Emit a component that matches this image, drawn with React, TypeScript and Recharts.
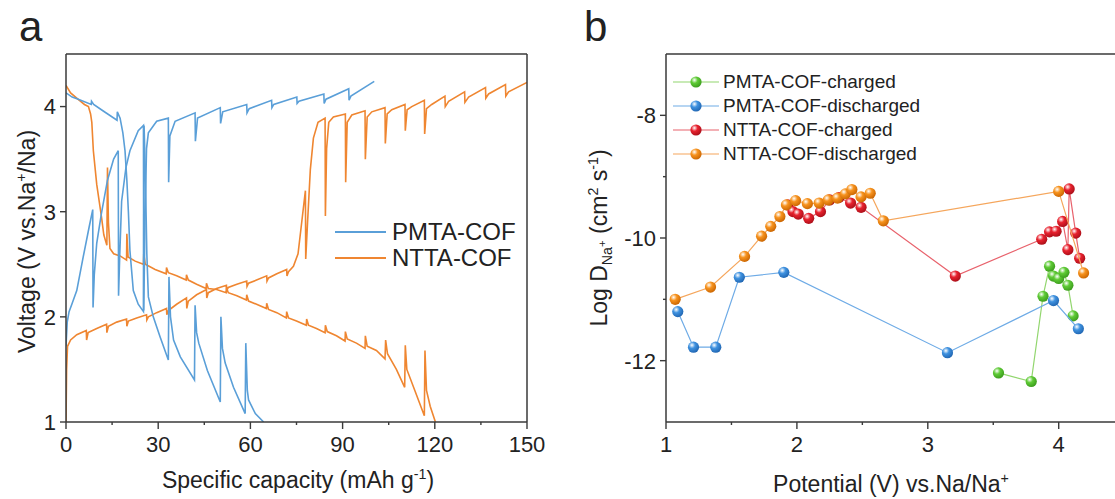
import React from 'react';
import {
  LineChart, Line, ScatterChart, Scatter, XAxis, YAxis,
} from 'recharts';

// ---- panel a: GITT voltage profiles, [capacity mAh/g, voltage V] ----
const pmtaCharge: number[][] = [
  [0, 1.72], [0.4, 1.95], [1.0, 2.05], [1.9, 2.12], [3.5, 2.25], [5.6, 2.57], [7.5, 2.85], [8.7, 3.02],
  [8.8, 2.09], [9.2, 2.4], [10, 2.7], [11.5, 2.98], [13.5, 3.3], [15.5, 3.5], [17, 3.58],
  [17.1, 2.2], [17.5, 2.6], [18.1, 3.1], [19.5, 3.42], [20.8, 3.58], [23.5, 3.77], [25.2, 3.82],
  [25.3, 2.06], [25.7, 2.9], [26.2, 3.6], [26.8, 3.75], [29.5, 3.86], [33.3, 3.89],
  [33.4, 3.28], [33.8, 3.72], [35.5, 3.86], [42, 3.94], [42.1, 3.67], [42.8, 3.89], [50.2, 3.99],
  [50.3, 3.84], [51, 3.95], [58.8, 4.02], [58.9, 3.94], [59.6, 3.98], [66.9, 4.06], [67, 3.99],
  [67.6, 4.02], [75.1, 4.09], [75.2, 4.03], [75.8, 4.05], [83.9, 4.12], [84, 4.03], [84.6, 4.07],
  [92, 4.17], [92.1, 4.06], [92.7, 4.1], [100.3, 4.24],
];

const pmtaDischarge: number[][] = [
  [0, 4.13], [2, 4.09], [4, 4.07], [8.2, 4.02], [8.3, 4.05], [9, 4.02], [12, 3.96], [16.6, 3.87],
  [16.7, 3.95], [17.6, 3.89], [18.5, 3.75], [19.2, 3.58], [19.8, 3.3], [20.3, 3.0], [20.8, 2.63],
  [21.9, 2.25], [23.5, 2.12], [25.2, 2.05], [25.4, 3.82], [25.8, 3.4], [26.3, 2.6], [26.8, 2.19],
  [28.4, 2.0], [30.6, 1.81], [33.3, 1.59], [33.5, 2.38], [34, 2.0], [35, 1.78], [37.2, 1.62],
  [41.8, 1.4], [42, 2.11], [42.5, 1.85], [43.2, 1.75], [46, 1.49], [50.2, 1.19], [50.4, 2.0],
  [50.9, 1.7], [51.8, 1.56], [54.5, 1.33], [58.3, 1.08], [58.5, 1.75], [59, 1.3], [59.4, 1.21],
  [61.6, 1.08], [64.3, 1.0],
];

const nttaCharge: number[][] = [
  [0, 1.0], [0.2, 1.5], [0.5, 1.72], [1.5, 1.78], [3.5, 1.83], [6.6, 1.87], [6.7, 1.78], [7.2, 1.85],
  [10, 1.89], [13.2, 1.93], [13.3, 1.85], [13.8, 1.91], [16.5, 1.95], [19.7, 1.98], [19.8, 1.91],
  [20.3, 1.96], [23, 1.99], [26.2, 2.02], [26.3, 1.97], [26.8, 2.0], [29.5, 2.04], [32.7, 2.08],
  [32.8, 2.02], [33.3, 2.06], [36, 2.12], [39.2, 2.18], [39.3, 2.08], [39.8, 2.15], [42.5, 2.21],
  [45.7, 2.26], [45.8, 2.18], [46.3, 2.23], [49, 2.27], [52.2, 2.3], [52.3, 2.25], [52.8, 2.28],
  [55.6, 2.31], [58.8, 2.34], [58.9, 2.29], [59.4, 2.32], [62, 2.35], [65.3, 2.39], [65.4, 2.34],
  [65.9, 2.37], [68.6, 2.41], [71.8, 2.45], [71.9, 2.39], [72.4, 2.43], [74, 2.48], [75.5, 2.6],
  [76.5, 2.85], [77.9, 3.2], [78, 2.55], [78.6, 2.9], [79.5, 3.4], [80.5, 3.7], [82, 3.85],
  [84.3, 3.89], [84.4, 2.96], [84.8, 3.6], [85.5, 3.85], [87, 3.9], [90.9, 3.93], [91, 3.28],
  [91.5, 3.85], [93, 3.92], [97.3, 3.96], [97.4, 3.5], [98, 3.9], [99.5, 3.95], [103.8, 3.99],
  [103.9, 3.65], [104.5, 3.93], [106, 3.97], [110.3, 4.02], [110.4, 3.77], [111, 3.97],
  [112.5, 4.0], [116.6, 4.06], [116.7, 3.74], [117.3, 3.98], [119, 4.02], [123.3, 4.1],
  [123.4, 4.0], [124.5, 4.05], [129.7, 4.14], [129.8, 4.04], [131, 4.09], [136.5, 4.18],
  [136.6, 4.08], [137.5, 4.12], [143, 4.21], [143.1, 4.1], [144, 4.14], [150, 4.23],
];

const nttaDischarge: number[][] = [
  [0, 4.2], [1.5, 4.13], [3.5, 4.08], [6, 4.02], [7.3, 4.0], [8.0, 3.93], [8.4, 3.85], [8.9, 3.58],
  [10, 3.26], [11.6, 2.94], [12.3, 2.78], [13.3, 2.68], [13.5, 3.42], [13.8, 2.9], [14.3, 2.65],
  [15.5, 2.6], [17.6, 2.58], [19.7, 2.54], [19.8, 2.79], [20.2, 2.57], [22.5, 2.53], [25.2, 2.5],
  [25.3, 2.6], [25.8, 2.5], [29, 2.45], [32.6, 2.41], [32.7, 2.47], [33.3, 2.42], [36, 2.39],
  [39.1, 2.35], [39.2, 2.4], [39.8, 2.35], [42.5, 2.31], [45.6, 2.27], [45.7, 2.32], [46.3, 2.27],
  [49, 2.26], [52.1, 2.23], [52.2, 2.28], [52.8, 2.23], [55.6, 2.2], [58.7, 2.16], [58.8, 2.21],
  [59.4, 2.15], [62, 2.12], [65.2, 2.08], [65.3, 2.13], [65.9, 2.07], [68.6, 2.04], [71.7, 1.99],
  [71.8, 2.05], [72.4, 1.99], [75, 1.96], [78.2, 1.92], [78.3, 1.98], [78.9, 1.92], [81.5, 1.89],
  [84.3, 1.85], [84.4, 1.92], [85, 1.86], [88, 1.82], [90.8, 1.77], [90.9, 1.86], [91.5, 1.79],
  [94.5, 1.75], [97.3, 1.7], [97.4, 1.82], [98, 1.72], [101, 1.68], [103.8, 1.6], [104, 1.78],
  [104.6, 1.65], [107.5, 1.5], [110.2, 1.33], [110.4, 1.73], [110.9, 1.5], [113.5, 1.3],
  [116.6, 1.06], [116.8, 1.68], [117.3, 1.3], [118.5, 1.15], [120.2, 1.0],
];

const capacityTicks = [0, 15, 30, 45, 60, 75, 90, 105, 120, 135, 150];
const capacityLabels = [0, 30, 60, 90, 120, 150];
const voltageTicks = [1, 2, 3, 4];

// ---- panel b: diffusion coefficient, [potential V, log D] ----
const pmtaCharged: number[][] = [
  [3.54, -12.2], [3.79, -12.34], [3.88, -10.95], [3.93, -10.46], [3.96, -10.62], [4.0, -10.66],
  [4.04, -10.56], [4.07, -10.77], [4.11, -11.27],
];
const pmtaDischarged: number[][] = [
  [1.09, -11.2], [1.21, -11.78], [1.38, -11.78], [1.56, -10.64], [1.9, -10.56], [3.15, -11.87],
  [3.96, -11.02], [4.15, -11.48],
];
const nttaCharged: number[][] = [
  [1.93, -9.46], [1.97, -9.57], [2.01, -9.61], [2.09, -9.68], [2.18, -9.57], [2.25, -9.38],
  [2.32, -9.34], [2.41, -9.43], [2.49, -9.5], [3.21, -10.62], [3.87, -10.02], [3.93, -9.9],
  [3.98, -9.89], [4.03, -9.73], [4.07, -10.19], [4.08, -9.2], [4.13, -9.92], [4.16, -10.33],
];
const nttaDischarged: number[][] = [
  [1.07, -11.0], [1.34, -10.8], [1.6, -10.3], [1.73, -9.97], [1.8, -9.81], [1.87, -9.65],
  [1.92, -9.46], [1.99, -9.39], [2.08, -9.44], [2.17, -9.43], [2.24, -9.38], [2.31, -9.35],
  [2.37, -9.28], [2.42, -9.21], [2.49, -9.33], [2.56, -9.27], [2.66, -9.72], [4.0, -9.24],
  [4.19, -10.57],
];

const potentialTicks = [1, 1.5, 2, 2.5, 3, 3.5, 4];
const potentialLabels = [1, 2, 3, 4];
const logDTicks = [-12, -11, -10, -9, -8];
const logDLabels = [-12, -10, -8];

const BLUE = '#5a9fd8';
const ORANGE = '#ef8631';
const AXIS = '#3a3a3a';
const FONT = '"Liberation Sans", Arial, Helvetica, sans-serif';

const toCV = (arr: number[][]) => arr.map(([c, v]) => ({ c, v }));
const toPD = (arr: number[][]) => arr.map(([p, d]) => ({ p, d }));

const makeXTick = (labels: number[]) => (props: any) => {
  const { x, y, payload } = props;
  const major = labels.includes(payload.value);
  return (
    <g>
      <line x1={x} y1={y} x2={x} y2={y + (major ? 7 : 3)} stroke={AXIS} strokeWidth={1.4} />
      {major && (
        <text x={x} y={y + 30} textAnchor="middle" fontSize={22} fill="#222" fontFamily={FONT}>
          {payload.value}
        </text>
      )}
    </g>
  );
};

const makeYTick = (labels: number[]) => (props: any) => {
  const { x, y, payload } = props;
  const major = labels.includes(payload.value);
  return (
    <g>
      <line x1={x} y1={y} x2={x - (major ? 6 : 3)} y2={y} stroke={AXIS} strokeWidth={1.4} />
      {major && (
        <text x={x - 10} y={y} dy="0.36em" textAnchor="end" fontSize={22} fill="#222" fontFamily={FONT}>
          {payload.value}
        </text>
      )}
    </g>
  );
};

const makeBall = (id: string, color: string, dark: string) => (props: any) => {
  const { cx, cy } = props;
  if (cx == null || cy == null) return <g />;
  return (
    <g>
      <defs>
        <radialGradient id={id} cx="0.36" cy="0.32" r="0.72">
          <stop offset="0" stopColor="#ffffff" />
          <stop offset="0.4" stopColor={color} />
          <stop offset="1" stopColor={dark} />
        </radialGradient>
      </defs>
      <circle cx={cx} cy={cy} r={5.6} fill={`url(#${id})`} />
    </g>
  );
};

const seriesB = [
  { name: 'PMTA-COF-charged', data: pmtaCharged, line: '#92d66e', color: '#5fcb36', dark: '#3a9a1c', id: 'gGreen' },
  { name: 'PMTA-COF-discharged', data: pmtaDischarged, line: '#6eabe6', color: '#3f92e0', dark: '#1f64b0', id: 'gBlue' },
  { name: 'NTTA-COF-charged', data: nttaCharged, line: '#e8626c', color: '#e8222e', dark: '#a80e18', id: 'gRed' },
  { name: 'NTTA-COF-discharged', data: nttaDischarged, line: '#f5a65c', color: '#f7931e', dark: '#c96400', id: 'gOrange' },
];

const sup: React.CSSProperties = { fontSize: '0.62em', position: 'relative', top: '-0.6em' };
const sub: React.CSSProperties = { fontSize: '0.62em', position: 'relative', top: '0.35em' };

const abs = (left: number, top: number, extra: React.CSSProperties = {}): React.CSSProperties => ({
  position: 'absolute', left, top, ...extra,
});

const frame = { stroke: AXIS, strokeWidth: 1.5 };

export default function App() {
  return (
    <div style={{ position: 'absolute', left: 0, top: 0, width: 1115, height: 499, overflow: 'hidden', background: '#fff', fontFamily: FONT, color: '#222' }}>
      {/* panel a */}
      <div style={abs(0, 0)}>
        <LineChart width={560} height={499} margin={{ top: 52, right: 31, bottom: 37, left: 20 }}>
          <XAxis
            type="number" dataKey="c" domain={[0, 150]} ticks={capacityTicks} height={40}
            axisLine={frame} tickLine={false} tickSize={0} tickMargin={0}
            tick={makeXTick(capacityLabels)} allowDataOverflow
          />
          <XAxis
            xAxisId="top" orientation="top" type="number" dataKey="c" domain={[0, 150]} height={2}
            axisLine={frame} tick={false} tickLine={false} allowDataOverflow
          />
          <YAxis
            type="number" domain={[1, 4.5]} ticks={voltageTicks} width={46}
            axisLine={frame} tickLine={false} tickSize={0} tickMargin={0}
            tick={makeYTick(voltageTicks)} allowDataOverflow
          />
          <YAxis
            yAxisId="right" orientation="right" type="number" domain={[1, 4.5]} width={2}
            axisLine={frame} tick={false} tickLine={false} allowDataOverflow
          />
          <Line data={toCV(nttaCharge)} dataKey="v" stroke={ORANGE} strokeWidth={1.6} dot={false} isAnimationActive={false} />
          <Line data={toCV(nttaDischarge)} dataKey="v" stroke={ORANGE} strokeWidth={1.6} dot={false} isAnimationActive={false} />
          <Line data={toCV(pmtaCharge)} dataKey="v" stroke={BLUE} strokeWidth={1.6} dot={false} isAnimationActive={false} />
          <Line data={toCV(pmtaDischarge)} dataKey="v" stroke={BLUE} strokeWidth={1.6} dot={false} isAnimationActive={false} />
        </LineChart>
      </div>

      <div style={abs(19, 6, { fontSize: 42, lineHeight: '42px' })}>a</div>
      <div style={abs(98, 466, { width: 400, textAlign: 'center', fontSize: 23, lineHeight: '28px' })}>
        Specific capacity (mAh g<span style={sup}>-1</span>)
      </div>
      <div style={abs(-122, 226, { width: 300, textAlign: 'center', fontSize: 23, lineHeight: '28px', transform: 'rotate(-90deg)' })}>
        Voltage (V vs.Na<span style={sup}>+</span>/Na)
      </div>

      {/* panel a legend */}
      {[{ name: 'PMTA-COF', color: BLUE, y: 232 }, { name: 'NTTA-COF', color: ORANGE, y: 258 }].map((e) => (
        <div key={e.name} style={abs(335, e.y - 14, { height: 28, display: 'flex', alignItems: 'center' })}>
          <div style={{ width: 51, height: 2, background: e.color }} />
          <span style={{ marginLeft: 6, fontSize: 24 }}>{e.name}</span>
        </div>
      ))}

      {/* panel b */}
      <div style={abs(560, 0)}>
        <ScatterChart width={555} height={499} margin={{ top: 52, right: 0, bottom: 37, left: 46 }}>
          <XAxis
            type="number" dataKey="p" domain={[1, 4.43]} ticks={potentialTicks} height={40}
            axisLine={frame} tickLine={false} tickSize={0} tickMargin={0}
            tick={makeXTick(potentialLabels)} allowDataOverflow
          />
          <XAxis
            xAxisId="top" orientation="top" type="number" dataKey="p" domain={[1, 4.43]} height={2}
            axisLine={frame} tick={false} tickLine={false} allowDataOverflow
          />
          <YAxis
            type="number" dataKey="d" domain={[-13, -7]} ticks={logDTicks} width={60}
            axisLine={frame} tickLine={false} tickSize={0} tickMargin={0}
            tick={makeYTick(logDLabels)} allowDataOverflow
          />
          {seriesB.map((s) => (
            <Scatter
              key={s.name} name={s.name} data={toPD(s.data)}
              line={{ stroke: s.line, strokeWidth: 1.2 }}
              shape={makeBall(s.id, s.color, s.dark)}
              isAnimationActive={false}
            />
          ))}
        </ScatterChart>
      </div>

      <div style={abs(584, 6, { fontSize: 42, lineHeight: '42px' })}>b</div>
      <div style={abs(691, 470, { width: 400, textAlign: 'center', fontSize: 23, lineHeight: '28px' })}>
        Potential (V) vs.Na/Na<span style={sup}>+</span>
      </div>
      <div style={abs(451, 222, { width: 300, textAlign: 'center', fontSize: 23, lineHeight: '28px', transform: 'rotate(-90deg)' })}>
        Log D<span style={sub}>Na<span style={{ fontSize: '0.8em', position: 'relative', top: '-0.5em' }}>+</span></span> (cm<span style={sup}>2</span> s<span style={sup}>-1</span>)
      </div>

      {/* panel b legend */}
      {seriesB.map((s, i) => (
        <div key={s.name} style={abs(673, 82 + i * 24 - 12, { height: 24, display: 'flex', alignItems: 'center' })}>
          <svg width={46} height={24}>
            <defs>
              <radialGradient id={`leg${s.id}`} cx="0.36" cy="0.32" r="0.72">
                <stop offset="0" stopColor="#ffffff" />
                <stop offset="0.4" stopColor={s.color} />
                <stop offset="1" stopColor={s.dark} />
              </radialGradient>
            </defs>
            <line x1={0} y1={12} x2={46} y2={12} stroke={s.line} strokeWidth={1.2} />
            <circle cx={23} cy={12} r={5.6} fill={`url(#leg${s.id})`} />
          </svg>
          <span style={{ marginLeft: 4, fontSize: 19 }}>{s.name}</span>
        </div>
      ))}
    </div>
  );
}
